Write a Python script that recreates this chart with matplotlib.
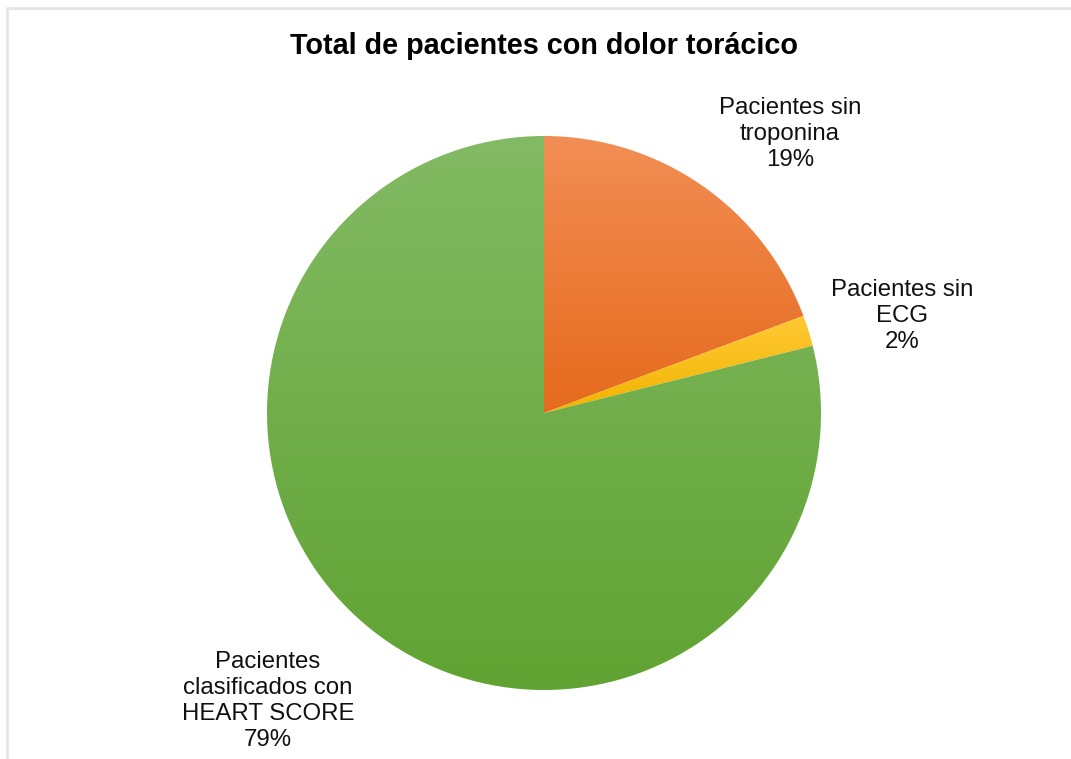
import matplotlib
matplotlib.use("Agg")
import matplotlib.pyplot as plt
import numpy as np
from matplotlib.colors import LinearSegmentedColormap

plt.rcParams['font.family'] = ['Liberation Sans', 'DejaVu Sans']

title = "Total de pacientes con dolor torácico"
categories = ["Pacientes sin\ntroponina", "Pacientes sin\nECG", "Pacientes\nclasificados con\nHEART SCORE"]
values = [19.3, 1.8, 78.9]
top_colors = ["#F28E55", "#FFC935", "#83BA64"]
bottom_colors = ["#E56A1C", "#F2B400", "#60A332"]
label_pos = [(790, 134), (902, 316), (268, 701)]

W, H = 1071, 759
fig = plt.figure(figsize=(W / 100, H / 100), dpi=100)
ax = fig.add_axes([0, 0, 1, 1])
ax.set_xlim(0, W)
ax.set_ylim(H, 0)
ax.axis('off')

cx, cy, r = 544, 413, 277
pax = fig.add_axes([0, 0, 1, 1])
wedges, _ = pax.pie(values, startangle=90, counterclock=False, radius=r,
                    center=(cx, H - cy), frame=True,
                    wedgeprops=dict(linewidth=0))
pax.set_xlim(0, W)
pax.set_ylim(0, H)
pax.axis('off')

for w, ct, cb in zip(wedges, top_colors, bottom_colors):
    ext = w.get_path().get_extents()
    x0, y0, x1, y1 = ext.x0, ext.y0, ext.x1, ext.y1
    cmap = LinearSegmentedColormap.from_list("g", [cb, ct])
    grad = np.linspace(0, 1, 256).reshape(-1, 1)
    im = pax.imshow(grad, cmap=cmap, origin='lower', aspect='auto',
                    extent=(x0, x1, y0, y1), zorder=w.get_zorder())
    im.set_clip_path(w)
    w.set_facecolor('none')
pax.set_xlim(0, W)
pax.set_ylim(0, H)

ax.text(544, 46, title, ha='center', va='center', fontsize=20.7,
        fontweight='bold', color='black')

for cat, v, (lx, ly) in zip(categories, values, label_pos):
    ax.text(lx, ly, f"{cat}\n{round(v):.0f}%", ha='center', va='center',
            fontsize=17.3, color='#111111', linespacing=1.22)

# chart border (cropped at right/bottom)
ax.plot([6.5, 6.5, W], [H, 7.5, 7.5], color='#E1E6EC', linewidth=2.0,
        solid_capstyle='butt')

fig.savefig("out.png", dpi=100)
